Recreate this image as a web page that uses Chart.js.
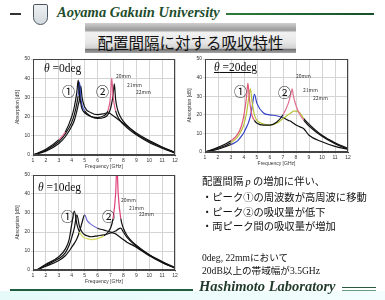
<!DOCTYPE html><html lang="ja">
<head>
  <meta charset="UTF-8" />
  <title>配置間隔に対する吸収特性</title>
  <script src="https://cdn.jsdelivr.net/npm/chart.js"></script>
  <style>
    body {
      margin: 0;
      width: 385px;
      height: 300px;
      position: relative;
      overflow: hidden;
      background: #fff;
      font-family: 'Noto Sans CJK JP', sans-serif;
      color: #111;
    }
    .abs { position: absolute; white-space: nowrap; }
    .serif { font-family: 'Liberation Serif', 'Noto Sans CJK JP', serif; }
    .logo {
      left: 33px; top: 4px; width: 13px; height: 19px;
      border: 1px solid #4a5560; border-radius: 2px 2px 8px 8px;
      background: linear-gradient(#eef1f3, #d3d9de);
    }
    .univ {
      left: 57px; top: 4px;
      font: italic bold 14.5px 'Liberation Serif', serif;
      color: #1d4d2c;
    }
    .topline { left: 226px; top: 13px; width: 148px; height: 2px; background: linear-gradient(to right, #2f7a3a, #16502a); }
    .dash { left: 10px; top: 13px; width: 11px; height: 2px; background: #333; }
    .titlebox {
      left: 85px; top: 23px; width: 211px; height: 30px;
      background: linear-gradient(to bottom, #d0d0d0 0%, #9a9a9a 24%, #f2f2f2 32%, #e6e6e6 65%, #d2d2d2 84%, #747474 88%, #a4a4a4 100%);
    }
    .title { left: 85px; top: 31px; width: 211px; text-align: center; font-size: 15.5px; color: #111; }
    canvas { position: absolute; }
    .theta { font-size: 11.5px; }
    .circ { font-size: 13px; }
    .mm { font-size: 5px; color: #333; }
    .note { left: 202px; font-size: 10.3px; }
    .note2 { left: 202px; font-size: 9.6px; }
    .band { left: 0; top: 291px; width: 385px; height: 9px; background: linear-gradient(to right, #e6fafa, #f3fdfd); }
    .botline { left: 10px; top: 289px; width: 183px; height: 2px; background: #1f5e3e; }
    .lab {
      left: 199px; top: 278px;
      font: italic bold 14.5px 'Liberation Serif', serif;
      color: #1f3a2a;
    }
    .rline1 { left: 342px; top: 287px; width: 34px; height: 1px; background: #2a5a40; }
    .rline2 { left: 342px; top: 290px; width: 34px; height: 1px; background: #6a9a80; }
  </style>
</head>
<body>
  <div class="abs logo"></div>
  <div class="abs dash"></div>
  <div class="abs univ">Aoyama Gakuin University</div>
  <div class="abs topline"></div>
  <div class="abs titlebox"></div>
  <div class="abs title">配置間隔に対する吸収特性</div>

  <canvas id="c0" width="165" height="115" style="left:15px; top:55px;"></canvas>
  <canvas id="c20" width="166" height="112" style="left:187px; top:55px;"></canvas>
  <canvas id="c10" width="165" height="114" style="left:15px; top:171px;"></canvas>

  <div class="abs serif theta" style="left:44px; top:62px;"><i>θ</i> =0deg</div>
  <div class="abs serif theta" style="left:214px; top:61px; text-decoration:underline;"><i>θ</i> =20deg</div>
  <div class="abs serif theta" style="left:38px; top:181px;"><i>θ</i> =10deg</div>

  <div class="abs circ" style="left:62px; top:81px;">①</div>
  <div class="abs circ" style="left:96px; top:81px;">②</div>
  <div class="abs circ" style="left:234px; top:81px;">①</div>
  <div class="abs circ" style="left:278px; top:82px;">②</div>
  <div class="abs circ" style="left:61px; top:206px;">①</div>
  <div class="abs circ" style="left:102px; top:206px;">②</div>

  <div class="abs mm" style="left:116px; top:72px;">20mm</div>
  <div class="abs mm" style="left:127px; top:81px;">21mm</div>
  <div class="abs mm" style="left:136px; top:88px;">22mm</div>
  <div class="abs mm" style="left:296px; top:72px;">20mm</div>
  <div class="abs mm" style="left:303px; top:86px;">21mm</div>
  <div class="abs mm" style="left:313px; top:94px;">22mm</div>
  <div class="abs mm" style="left:121px; top:196px;">20mm</div>
  <div class="abs mm" style="left:129px; top:204px;">21mm</div>
  <div class="abs mm" style="left:139px; top:210px;">22mm</div>

  <div class="abs note" style="top:173px;">配置間隔 <i class="serif">p</i> の増加に伴い、</div>
  <div class="abs note" style="top:189px;">・ピーク①の周波数が高周波に移動</div>
  <div class="abs note" style="top:204px;">・ピーク②の吸収量が低下</div>
  <div class="abs note" style="top:218px;">・両ピーク間の吸収量が増加</div>
  <div class="abs note2 serif" style="top:250px;">0deg, 22mmにおいて</div>
  <div class="abs note2 serif" style="top:263px;">20dB以上の帯域幅が3.5GHz</div>

  <div class="abs band"></div>
  <div class="abs botline"></div>
  <div class="abs lab">Hashimoto Laboratory</div>
  <div class="abs rline1"></div>
  <div class="abs rline2"></div>

<script>
// tick labels
const xTickValues = [1, 2, 3, 4, 5, 6, 7, 8, 9, 10, 11, 12];
const yTickValues = [0, 10, 20, 30, 40, 50];
const pitches = ['20mm', '21mm', '22mm'];

// θ = 0deg
const freq0 = [1, 2, 3, 3.5, 4, 4.2, 4.4, 4.5, 4.6, 4.7, 4.8, 5, 5.5, 6, 6.5, 6.8, 7, 7.1, 7.2, 7.3, 7.4, 7.5, 7.6, 7.8, 8, 8.5, 9, 10, 11, 12];
const abs0_20mm = [0, 3, 8, 12, 20, 25, 33, 39, 32, 27, 24, 22, 20, 19.5, 20.5, 23, 30, 40, 31, 26, 23, 21, 19.5, 17.5, 16, 13, 10.5, 6.5, 3.5, 1];
const abs0_21mm = [0, 2.5, 7, 11, 17, 21, 27, 31, 38, 30, 26, 23, 20, 19, 19.5, 21, 24, 27, 31, 37, 29, 25, 22.5, 19.5, 17.5, 14, 11, 7, 4, 1.2];
const abs0_22mm = [0, 2, 6, 9.5, 15, 18, 23, 26, 29, 36, 30, 25, 22, 21, 21.5, 22, 21.5, 21, 20.5, 20, 19.5, 19, 18.5, 17.5, 16.5, 14, 11.5, 7.5, 4.2, 1.3];

// θ = 20deg
const freq20 = [1, 2, 3, 3.5, 3.8, 4.0, 4.2, 4.3, 4.4, 4.5, 4.6, 4.8, 5, 5.5, 6, 6.5, 7, 7.4, 7.6, 7.7, 7.8, 8, 8.3, 8.6, 9, 10, 11, 12];
const abs20_20mm = [0, 2.5, 6, 9.5, 14, 20, 30, 37, 30, 24, 20, 17, 15.5, 14.5, 14.5, 16, 20, 26, 31, 34, 30, 25, 20, 17, 14, 8.5, 4.5, 1.5];
const abs20_21mm = [0, 2, 5, 8, 11.5, 15, 21, 26, 31, 34, 28, 20, 17, 15, 14.5, 15.5, 18, 20, 21, 21.5, 22, 22, 21, 18, 15, 9, 5, 2];
const abs20_22mm = [0, 1.5, 4, 6, 8.5, 10.5, 13.5, 15, 17, 19.5, 23, 31, 26, 21, 20, 19.5, 18.5, 17, 16.5, 16, 15.5, 14.5, 13.5, 12.5, 9, 5.5, 3, 1.5];

// θ = 10deg
const freq10 = [1.3, 2, 3, 3.5, 3.8, 4.0, 4.2, 4.4, 4.6, 4.8, 5.0, 5.2, 5.5, 6, 6.5, 7, 7.2, 7.4, 7.5, 7.6, 7.8, 8, 8.3, 8.6, 9, 10, 11, 12];
const abs10_20mm = [0, 3, 7, 11, 16, 24, 31, 24, 20, 18, 17, 16.5, 16, 16.5, 18, 22, 27, 40, 55, 40, 27, 22, 18, 15.5, 13, 8, 4, 1];
const abs10_21mm = [0, 2.5, 6, 9, 13, 17, 22, 29, 23, 20, 18.5, 18, 17.5, 18, 18.5, 19.5, 20, 20.5, 21, 21.5, 22, 20, 17, 15, 12.5, 8, 4.5, 1.2];
const abs10_22mm = [0, 2, 5, 7.5, 10, 12, 14, 16.5, 20, 25, 29, 26, 24, 22, 21, 20, 19.5, 19, 18.5, 18, 17, 16, 14.5, 13.5, 12, 7.5, 4, 1];

// coloured highlight pieces of each curve: [from GHz, to GHz, colour]
const marks0 = [[[2.8, 3.6, '#e0608a'], [6.9, 7.4, '#e0608a']], [[4.5, 5.0, '#3a4fd0']], []];
const marks20 = [[[2.6, 4.8, '#e05a78'], [6.8, 8.6, '#e07090']], [[2.8, 8.7, '#b8c23a']], [[3.0, 7.0, '#3440c8']]];
const marks10 = [[[4.6, 6.6, '#d8d860'], [7.2, 7.8, '#e0407a']], [], [[5.0, 6.2, '#6a6ad8']]];

const frame = {
  id: 'frame',
  afterDraw(c) {
    const { ctx, chartArea: a } = c;
    ctx.save();
    ctx.strokeStyle = '#444';
    ctx.lineWidth = 1;
    ctx.strokeRect(Math.round(a.left) + 0.5, Math.round(a.top) + 0.5, Math.round(a.width) - 1, Math.round(a.height) - 1);
    ctx.restore();
  }
};

function makeChart(id, freq, series, marks) {
  new Chart(document.getElementById(id), {
    type: 'line',
    data: {
      datasets: series.map((ys, i) => ({
        label: pitches[i],
        data: freq.map((f, j) => ({ x: f, y: ys[j] })),
        borderColor: '#111',
        borderWidth: 1.2,
        pointRadius: 0,
        cubicInterpolationMode: 'monotone',
        segment: {
          borderColor: ctx => {
            const m = (ctx.p0.parsed.x + ctx.p1.parsed.x) / 2;
            for (const [a, b, col] of marks[i]) if (m >= a && m <= b) return col;
            return '#111';
          }
        }
      }))
    },
    options: {
      responsive: false,
      animation: false,
      layout: { padding: { top: 3, right: 5, left: 0, bottom: 0 } },
      plugins: { legend: { display: false }, tooltip: { enabled: false } },
      scales: {
        x: {
          type: 'linear', min: 1, max: 12,
          afterBuildTicks: s => { s.ticks = xTickValues.map(v => ({ value: v })); },
          afterFit: s => { s.height = 15; },
          grid: { color: '#d4d4d4', tickLength: 2 },
          border: { color: '#444' },
          ticks: { font: { size: 5 }, color: '#333', padding: 1, maxRotation: 0 },
          title: { display: true, text: 'Frequency [GHz]', font: { size: 5 }, color: '#333', padding: 0 }
        },
        y: {
          min: 0, max: 50,
          afterBuildTicks: s => { s.ticks = yTickValues.map(v => ({ value: v })); },
          afterFit: s => { s.width = 18; },
          grid: { color: '#d4d4d4', tickLength: 2 },
          border: { color: '#444' },
          ticks: { font: { size: 5 }, color: '#333', padding: 1 },
          title: { display: true, text: 'Absorption [dB]', font: { size: 5 }, color: '#333', padding: 0 }
        }
      }
    },
    plugins: [frame]
  });
}

makeChart('c0', freq0, [abs0_20mm, abs0_21mm, abs0_22mm], marks0);
makeChart('c20', freq20, [abs20_20mm, abs20_21mm, abs20_22mm], marks20);
makeChart('c10', freq10, [abs10_20mm, abs10_21mm, abs10_22mm], marks10);
</script>
</body>
</html>
